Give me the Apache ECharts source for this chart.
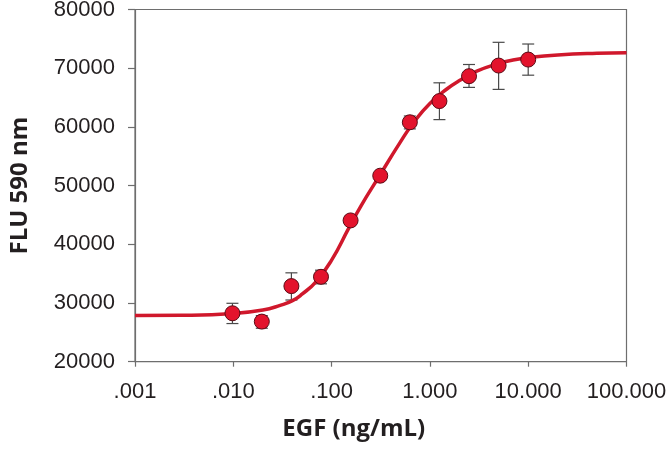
<!DOCTYPE html>
<html lang="en">
<head>
    <meta charset="UTF-8">
    <title>EGF dose response</title>
    <script type="text/javascript" src="https://cdn.jsdelivr.net/npm/echarts@6/dist/echarts.min.js"></script>
    <style>
        html, body { margin: 0; padding: 0; background: #fff; }
        #chart { width: 671px; height: 450px; }
    </style>
</head>
<body>
<div id="chart"></div>
<script type="text/javascript">
    // measured points (dilution series) with error bar ends
    var doseX   = [0.0098, 0.0195, 0.039, 0.078, 0.156, 0.3125, 0.625, 1.25, 2.5, 5, 10];
    var meanY   = [28250, 26830, 32880, 34460, 44070, 51690, 60790, 64400, 68640, 70450, 71470];
    var errLow  = [26500, 25700, 30510, 33270, 43800, 51400, 59660, 61240, 66730, 66390, 68810];
    var errHigh = [29950, 27850, 35140, 35590, 44300, 52000, 61860, 67510, 70630, 74410, 74120];

    // fitted curve
    var curveX = [0.001, 0.003, 0.01, 0.02, 0.03, 0.04, 0.05, 0.07, 0.1, 0.15, 0.2, 0.3, 0.5, 0.7, 1, 1.5, 2, 3, 5, 7, 10, 20, 50, 100];
    var curveY = [27850, 27900, 28200, 28800, 29600, 30400, 31500, 33700, 37300, 42800, 46600, 51400, 57400, 61000, 64000, 66500, 67900, 69500, 70800, 71400, 71800, 72250, 72550, 72650];

    var xTickLabels = ['.001', '.010', '.100', '1.000', '10.000', '100.000'];

    var labelFont = 'Liberation Sans, Arial, sans-serif';
    var titleFont = '"Open Sans", "DejaVu Sans", sans-serif';
    var axisColor = '#6e6e6e';

    var points = doseX.map(function (x, i) { return [x, meanY[i]]; });
    var bars = doseX.map(function (x, i) { return [x, errLow[i], errHigh[i]]; });
    var curve = curveX.map(function (x, i) { return [x, curveY[i]]; });

    function renderErr(params, api) {
        var lo = api.coord([api.value(0), api.value(1)]);
        var hi = api.coord([api.value(0), api.value(2)]);
        var cap = 6;
        var st = { stroke: '#4a4a4a', lineWidth: 1.2 };
        return {
            type: 'group',
            children: [
                { type: 'line', shape: { x1: hi[0], y1: hi[1], x2: lo[0], y2: lo[1] }, style: st },
                { type: 'line', shape: { x1: hi[0] - cap, y1: hi[1], x2: hi[0] + cap, y2: hi[1] }, style: st },
                { type: 'line', shape: { x1: lo[0] - cap, y1: lo[1], x2: lo[0] + cap, y2: lo[1] }, style: st }
            ]
        };
    }

    var option = {
        animation: false,
        backgroundColor: '#fff',
        grid: {
            left: 135, right: 44.5, top: 9.5, bottom: 88.3,
            outerBoundsMode: 'none',
            show: true, borderColor: axisColor, borderWidth: 1.2
        },
        xAxis: {
            type: 'log',
            logBase: 10,
            min: 0.001,
            max: 100,
            name: 'EGF (ng/mL)',
            nameLocation: 'middle',
            nameGap: 55,
            nameTextStyle: {
                fontFamily: titleFont, fontWeight: 'bold', fontSize: 24, color: '#231f20',
                padding: [0, 54, 0, 0]
            },
            axisLine: { lineStyle: { color: axisColor, width: 1.2 } },
            axisTick: { show: true, inside: false, length: 5, lineStyle: { color: axisColor, width: 1.2 } },
            minorTick: { show: false },
            splitLine: { show: false },
            axisLabel: {
                margin: 19,
                fontFamily: labelFont, fontSize: 22, color: '#231f20',
                formatter: function (v) {
                    var k = Math.round(Math.log(v) / Math.LN10) + 3;
                    return xTickLabels[k] || '';
                }
            }
        },
        yAxis: {
            type: 'value',
            min: 20000,
            max: 80000,
            interval: 10000,
            name: 'FLU 590 nm',
            nameLocation: 'middle',
            nameGap: 103,
            nameTextStyle: {
                fontFamily: titleFont, fontWeight: 'bold', fontSize: 24, color: '#231f20'
            },
            axisLine: { show: true, lineStyle: { color: axisColor, width: 1.2 } },
            axisTick: { show: true, inside: false, length: 7, lineStyle: { color: axisColor, width: 1.2 } },
            splitLine: { show: false },
            axisLabel: {
                margin: 20,
                fontFamily: labelFont, fontSize: 22, color: '#231f20',
                formatter: function (v) { return String(v); }
            }
        },
        series: [
            {
                type: 'custom',
                renderItem: renderErr,
                data: bars,
                z: 1
            },
            {
                type: 'line',
                data: curve,
                smooth: 0.5,
                showSymbol: false,
                lineStyle: { color: '#d0182c', width: 3.5 },
                z: 2
            },
            {
                type: 'scatter',
                data: points,
                symbol: 'circle',
                symbolSize: 15,
                itemStyle: { color: '#e3132c', opacity: 1, borderColor: '#5a0a14', borderWidth: 1 },
                z: 3
            }
        ]
    };

    var myChart = echarts.init(document.getElementById('chart'));
    myChart.setOption(option);
</script>
</body>
</html>
